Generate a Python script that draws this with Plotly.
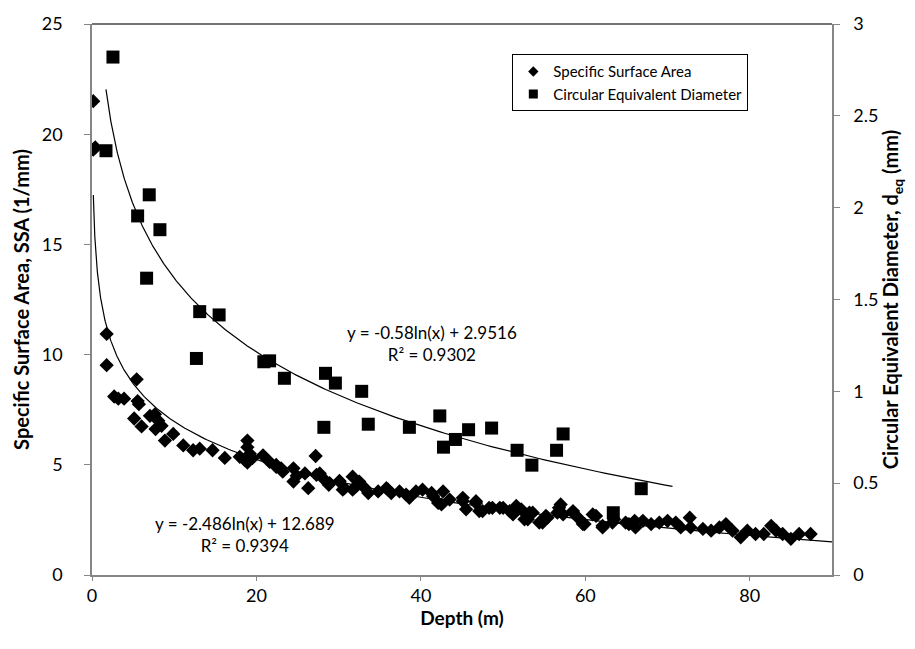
import numpy as np
import plotly.graph_objects as go

# ---- Data: Specific Surface Area (left axis) ----
ssa_depth = [0.15, 0.15, 0.4, 1.78, 1.78, 2.7, 3.2, 3.9, 5.43, 5.55, 5.7, 5.13, 6.03, 7.05, 7.65,
             8.06, 7.73, 8.46, 8.87, 9.88, 11.1, 12.3, 13.1, 14.66, 16.15, 17.97, 18.9, 18.9,
             18.6, 19.2, 19.5, 18.9, 20.8, 21.6, 22.4, 23.0, 23.2, 24.5, 24.5, 24.9, 25.9, 26.3,
             27.2, 27.7, 28.1, 28.9, 30.1, 30.7, 31.7, 32.5, 33.2, 33.6, 34.8, 35.8, 36.4, 37.4,
             38.2, 38.6, 39.4, 40.2, 41.3, 41.5, 42.1, 42.5, 42.7, 43.5, 45.1, 45.5, 46.7, 47.1,
             48.3, 49.6, 50.8, 51.6, 52.6, 53.2, 54.4, 55.2, 56.6, 57.0, 58.5, 59.3, 59.7, 60.9,
             62.1, 63.5, 64.9, 66.0, 67.0, 68.0, 69.0, 70.0, 71.0, 71.6, 72.7, 72.8, 74.3, 75.3,
             76.3, 77.1, 77.9, 78.9, 79.7, 80.7, 81.7, 82.6, 83.2, 84.0, 85.0, 86.0, 87.4,
             22.4, 27.3, 28.8, 30.1, 30.5, 31.7, 32.1, 36.0, 45.1, 46.7, 47.5, 48.7, 50.0,
             51.2, 52.2, 53.0, 53.6, 54.8, 55.4, 56.8, 57.3, 58.5, 59.9, 61.3, 62.1, 63.3,
             65.3, 66.1]
ssa_value = [21.5, 19.3, 19.4, 10.94, 9.52, 8.1, 8.0, 8.0, 8.88, 7.89, 7.75, 7.1, 6.74, 7.22, 7.29,
             7.0, 6.62, 6.77, 6.1, 6.4, 5.88, 5.66, 5.73, 5.66, 5.31, 5.36, 6.1, 5.8,
             5.21, 5.5, 5.3, 5.1, 5.43, 5.13, 4.91, 4.84, 4.69, 4.84, 4.24, 4.5, 4.61, 3.94,
             5.4, 4.61, 4.39, 4.17, 4.27, 3.94, 4.46, 4.24, 3.94, 3.72, 3.79, 3.94, 3.72, 3.79,
             3.65, 3.5, 3.79, 3.87, 3.72, 3.57, 3.27, 3.2, 3.79, 3.42, 3.5, 2.98, 3.35, 2.9,
             3.05, 3.05, 2.9, 3.13, 2.53, 2.83, 2.38, 2.68, 2.83, 3.2, 2.83, 2.53, 2.31, 2.75,
             2.16, 2.53, 2.38, 2.46, 2.46, 2.31, 2.38, 2.46, 2.38, 2.16, 2.6, 2.16, 2.09, 2.01,
             2.16, 2.31, 2.01, 1.71, 2.01, 1.86, 1.86, 2.23, 2.01, 1.86, 1.64, 1.86, 1.86,
             4.99, 4.54, 4.09, 4.24, 3.87, 3.87, 4.02, 3.87, 3.35, 3.27, 2.9, 3.05, 3.05,
             2.75, 2.98, 2.53, 2.83, 2.38, 2.6, 3.05, 2.75, 2.9, 2.31, 2.68, 2.23, 2.38,
             2.31, 2.16]

# ---- Data: Circular Equivalent Diameter (right axis) ----
ced_depth = [1.7, 2.55, 5.55, 6.64, 6.96, 8.26, 12.7, 13.1, 15.46, 20.9, 21.6, 23.4, 28.2, 28.4,
             29.6, 32.8, 33.6, 38.6, 42.3, 42.75, 44.2, 45.8, 48.6, 51.7, 53.5, 56.5, 57.3,
             63.4, 66.8]
ced_value = [2.31, 2.82, 1.955, 1.616, 2.07, 1.88, 1.179, 1.434, 1.416, 1.161, 1.166, 1.071,
             0.804, 1.098, 1.045, 1.0, 0.821, 0.804, 0.866, 0.696, 0.738, 0.791, 0.80, 0.679,
             0.598, 0.679, 0.768, 0.339, 0.47]

# ---- Trendline coefficients (as printed on chart) ----
ssa_a, ssa_b, ssa_r2 = -2.486, 12.689, 0.9394
ced_a, ced_b, ced_r2 = -0.58, 2.9516, 0.9302
ssa_fit_range = (0.16, 90)
ced_fit_range = (1.7, 70.6)

x_ticks = [0, 20, 40, 60, 80]
left_ticks = [0, 5, 10, 15, 20, 25]
right_ticks = [0, 0.5, 1, 1.5, 2, 2.5, 3]

FONT = "Lato, 'Open Sans', sans-serif"
AX = "#868686"

fig = go.Figure()

xs1 = np.geomspace(*ssa_fit_range, 300)
xs2 = np.geomspace(*ced_fit_range, 300)

fig.add_trace(go.Scatter(x=xs1, y=ssa_a * np.log(xs1) + ssa_b, mode="lines",
                         line=dict(color="black", width=1.2), showlegend=False, hoverinfo="skip"))
fig.add_trace(go.Scatter(x=xs2, y=ced_a * np.log(xs2) + ced_b, mode="lines", yaxis="y2",
                         line=dict(color="black", width=1.2), showlegend=False, hoverinfo="skip"))

fig.add_trace(go.Scatter(x=ssa_depth, y=ssa_value, mode="markers", showlegend=False,
                         marker=dict(symbol="diamond", size=11, color="black")))
fig.add_trace(go.Scatter(x=ced_depth, y=ced_value, mode="markers", showlegend=False,
                         yaxis="y2", marker=dict(symbol="square", size=13, color="black")))

# legend entries (smaller symbols, as in the reference legend)
fig.add_trace(go.Scatter(x=[None], y=[None], mode="markers", name="Specific Surface Area",
                         marker=dict(symbol="diamond", size=8, color="black")))
fig.add_trace(go.Scatter(x=[None], y=[None], mode="markers", name="Circular Equivalent Diameter",
                         marker=dict(symbol="square", size=9, color="black")))

fig.update_layout(
    width=915, height=649,
    margin=dict(l=92, r=83, t=15, b=74),
    paper_bgcolor="white", plot_bgcolor="white",
    font=dict(family=FONT, color="black", size=16),
    xaxis=dict(range=[0, 90], tickvals=x_ticks, showgrid=False, zeroline=False,
               showline=True, linecolor=AX, linewidth=1.5, ticks="outside", tickcolor=AX,
               ticklen=4, tickfont=dict(size=18),
               title=dict(text="<b>Depth (m)</b>", font=dict(size=19), standoff=1)),
    yaxis=dict(range=[0, 25], tickvals=left_ticks, showgrid=False, zeroline=False,
               showline=True, linecolor=AX, linewidth=1.5, ticks="outside", tickcolor=AX,
               ticklen=6, tickfont=dict(size=18), ticklabelstandoff=18,
               title=dict(text="<b>Specific Surface Area, SSA (1/mm)</b>", font=dict(size=20), standoff=7)),
    yaxis2=dict(range=[0, 3], tickvals=right_ticks, overlaying="y", side="right",
                showgrid=False, zeroline=False, showline=True, linecolor=AX, linewidth=1.5,
                ticks="outside", tickcolor=AX, ticklen=6, tickfont=dict(size=18),
                ticklabelstandoff=10,
                title=dict(text="<b>Circular Equivalent Diameter, d<sub>eq</sub> (mm)</b>",
                           font=dict(size=20), standoff=6)),
    legend=dict(x=0.568, y=0.945, xanchor="left", yanchor="top", bgcolor="white",
                bordercolor="black", borderwidth=1, font=dict(size=15), tracegroupgap=0,
                itemwidth=30, entrywidth=245, entrywidthmode="pixels"),
    showlegend=True,
)

# top border of plot area
fig.add_shape(type="line", xref="paper", yref="paper", x0=0, x1=1, y0=1, y1=1,
              line=dict(color="#444444", width=1.5))

fig.add_annotation(x=41.4, y=1.26, yref="y2", xref="x",
                   text=f"y = {ced_a}ln(x) + {ced_b}<br>R² = {ced_r2}",
                   showarrow=False, font=dict(size=17), align="center")
fig.add_annotation(x=18.6, y=1.83, xref="x", yref="y",
                   text=f"y = {ssa_a}ln(x) + {ssa_b}<br>R² = {ssa_r2}",
                   showarrow=False, font=dict(size=17), align="center")

fig.write_html("out.html")
